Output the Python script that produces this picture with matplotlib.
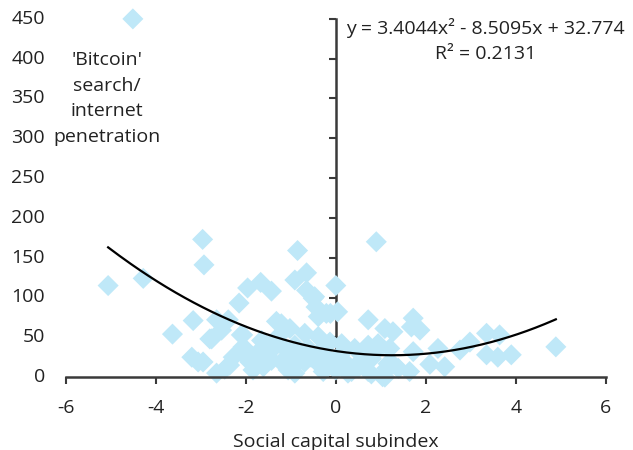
import matplotlib.pyplot as plt
import numpy as np

plt.rcParams['font.family'] = ['Open Sans', 'DejaVu Sans']
plt.rcParams['axes.unicode_minus'] = False

# scatter points
x_vals = [-4.51, -5.06, -4.28, -2.96, -2.93, -0.85, -0.65, -0.91, -1.67, -1.96,
          -1.43, -2.15, -0.65, -0.50, -0.44, -0.39, -0.12, 0.00, -3.17, -3.63,
          -2.76, -3.20, -3.06, -2.65, -2.47, -2.54, -2.65, -2.39, -2.07, -1.32,
          -1.02, -0.69, -0.39, -2.80, -2.10, -2.06, -2.28, -2.10, -2.36, -1.91,
          -1.84, -1.65, -1.54, -1.61, -1.43, -1.32, -2.95, -0.47, -0.21, -1.21,
          -0.13, -1.28, -1.13, -0.91, -0.61, -0.32, -1.21, -0.91, -0.69, -0.39,
          -0.10, -0.91, -0.28, 0.00, -1.06, 0.90, 0.04, 0.72, 1.09, 1.27,
          1.72, 1.68, 1.87, 0.13, 0.42, 0.72, 0.94, 1.20, 1.72, 0.20,
          0.53, 0.79, 1.16, 1.39, 0.27, 0.72, 1.09, 1.64, -0.02, 1.04,
          2.09, 2.42, 2.27, 2.76, 2.98, 3.35, 3.64, 3.35, 3.60, 3.90,
          4.89, 0.35, 0.79, 1.13, 1.27, -1.50, -1.75, -0.55, -0.25, 0.60,
          -1.00, -0.80, 0.10, 0.50, 0.85]
y_vals = [450, 115, 124, 173, 141, 159, 131, 122, 119, 112,
          108, 93, 109, 99, 88, 76, 80, 115, 71, 54,
          48, 25, 19, 5, 10, 59, 72, 72, 53, 70,
          61, 55, 51, 48, 53, 38, 25, 32, 15, 19,
          9, 46, 32, 13, 21, 40, 19, 101, 80, 67,
          44, 51, 36, 40, 36, 34, 19, 15, 19, 17,
          19, 5, 7, 9, 9, 170, 82, 72, 61, 57,
          74, 63, 59, 42, 36, 40, 42, 36, 32, 19,
          19, 23, 17, 11, 5, 7, 0, 7, 11, 0.5,
          16, 13, 36, 34, 44, 55, 53, 28, 25, 28,
          38, 7, 4, 11, 16, 25, 30, 25, 28, 30,
          28, 22, 28, 12, 30]

# trendline coefficients shown on the chart
coef = [3.4044, -8.5095, 32.774]
y_ticks = [0, 50, 100, 150, 200, 250, 300, 350, 400, 450]
x_ticks = [-6, -4, -2, 0, 2, 4, 6]

fs = 14
txt_col = '#222222'

fig = plt.figure(figsize=(6.33, 4.5), dpi=100)
ax = fig.add_axes([0.104, 0.162, 0.853, 0.796])

ax.scatter(x_vals, y_vals, marker='D', s=115, color='#bfe8f8',
           edgecolors='none', clip_on=False, zorder=2)

xs = np.linspace(min(x_vals), max(x_vals), 200)
ax.plot(xs, np.polyval(coef, xs), color='black', lw=1.6, zorder=3)

ax.set_xlim(-6, 6)
ax.set_ylim(0, 450)
ax.set_xticks(x_ticks)
ax.set_yticks(y_ticks)

axis_col = '#3a3a3a'
ax.spines['top'].set_visible(False)
ax.spines['right'].set_visible(False)
ax.spines['left'].set_position(('data', 0))
ax.spines['left'].set_color(axis_col)
ax.spines['bottom'].set_color(axis_col)
ax.spines['left'].set_linewidth(1.8)
ax.spines['bottom'].set_linewidth(1.8)
ax.spines['left'].set_zorder(1)
ax.tick_params(axis='both', direction='out', length=5, width=1.5, color=axis_col,
               labelsize=fs, labelcolor=txt_col)
ax.tick_params(axis='x', pad=11)
ax.tick_params(axis='y', labelleft=False)

# y tick labels sit at the far left, away from the axis line
for t in y_ticks:
    ax.text(-0.039, t, str(t), transform=ax.get_yaxis_transform(),
            ha='right', va='center', fontsize=fs, color=txt_col)

ax.set_xlabel('Social capital subindex', fontsize=fs, color=txt_col, labelpad=11)

ax.text(-5.09, 350, "'Bitcoin'\nsearch/\ninternet\npenetration", ha='center', va='center',
        fontsize=fs, color=txt_col, linespacing=1.55)

ax.text(3.33, 423, 'y = 3.4044x² - 8.5095x + 32.774\nR² = 0.2131', ha='center', va='center',
        fontsize=fs, color=txt_col, linespacing=1.5)

fig.savefig('out.png', dpi=100)
